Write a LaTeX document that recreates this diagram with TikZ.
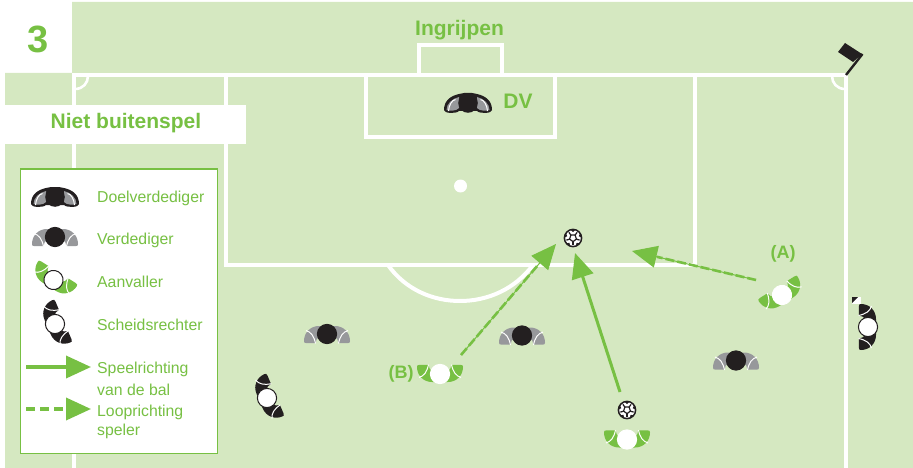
\documentclass[tikz,border=0pt]{standalone}
\usepackage{fontspec}
\setmainfont{Liberation Sans}
\usetikzlibrary{arrows.meta,calc}
\definecolor{grass}{HTML}{D5E8C1}
\definecolor{kng}{HTML}{77C043}
\definecolor{ink}{HTML}{231F20}
\definecolor{midgrey}{HTML}{97989B}
\tikzset{
  fieldline/.style={draw=white,line width=4pt},
  legendlabel/.style={text=kng,anchor=base west,inner sep=0pt,font=\fontsize{15.8}{17}\selectfont},
  headlabel/.style={text=kng,inner sep=0pt,font=\fontsize{21}{24}\selectfont\bfseries},
  taglabel/.style={text=kng,inner sep=0pt,font=\fontsize{18}{20}\selectfont\bfseries},
  bigarrow/.style={draw=kng,line width=3pt,-{Triangle[length=25pt,width=22pt,fill=kng]}},
  runarrowbase/.style={draw=kng,line width=1pt,-{Triangle[length=25pt,width=22pt,fill=kng]}},
  runarrowdash/.style={draw=kng,line width=2.6pt,dash pattern=on 9pt off 3pt},
  pics/player/.style n args={3}{code={
    \fill[#1] (-20.5,9.2) .. controls (-22.5,9.2) and (-23,8.5) .. (-23,7)
      .. controls (-23,-1) and (-17,-8) .. (-8,-8) -- (8,-8)
      .. controls (17,-8) and (23,-1) .. (23,7)
      .. controls (23,8.5) and (22.5,9.2) .. (20.5,9.2) -- (11.5,9.2)
      .. controls (11,6) and (10,4) .. (8,3) -- (-8,3)
      .. controls (-10,4) and (-11,6) .. (-11.5,9.2) -- cycle;
    \draw[white,line width=1pt] (-21,-3.5) .. controls (-16,-2) and (-13,2) .. (-11.5,9.5);
    \draw[white,line width=1pt] (21,-3.5) .. controls (16,-2) and (13,2) .. (11.5,9.5);
    \fill[#2,draw=#3,line width=1pt] (0,0) circle (9.6);
  }},
  pics/goalie/.style={code={
    \fill[ink] (-24,7) .. controls (-24,-2) and (-18,-7) .. (-9,-9) -- (-4,-10) -- (4,-10) -- (9,-9)
      .. controls (18,-7) and (24,-2) .. (24,7)
      .. controls (24,10.5) and (12,11) .. (9,8) -- (-9,8)
      .. controls (-12,11) and (-24,10.5) .. (-24,7) -- cycle;
    \fill[midgrey] (-21.5,7) .. controls (-21.5,1) and (-16,-4.5) .. (-9,-6) -- (-9,5)
      .. controls (-11,8) and (-20,8.5) .. (-21.5,7) -- cycle;
    \fill[midgrey] (21.5,7) .. controls (21.5,1) and (16,-4.5) .. (9,-6) -- (9,5)
      .. controls (11,8) and (20,8.5) .. (21.5,7) -- cycle;
    \draw[white,line width=1pt] (-12.5,-3.5) .. controls (-16,-3) and (-19,2) .. (-19.5,8);
    \draw[white,line width=1pt] (12.5,-3.5) .. controls (16,-3) and (19,2) .. (19.5,8);
    \fill[ink] (0,0) circle (9.8);
  }},
  pics/ball/.style={code={
    \fill[white] (0,0) circle (8.6);
    \foreach \a in {90,162,234,306,378}{
      \draw[ink,line width=1.2pt] (\a:3.6) -- (\a:7);
      \fill[ink] (\a+36-16:8.6) arc[start angle=\a+36-16,end angle=\a+36+16,radius=8.6] -- (\a+36:6) -- cycle;
    }
    \draw[ink,line width=1.2pt] (90:3.6) -- (162:3.6) -- (234:3.6) -- (306:3.6) -- (378:3.6) -- cycle;
    \draw[ink,line width=1.5pt] (0,0) circle (8.6);
  }}
}
\begin{document}
\begin{tikzpicture}[x=1pt,y=-1pt]
\useasboundingbox (0,0) rectangle (913,468);
% grass
\fill[grass] (72,2) -- (913,2) -- (913,468) -- (5,468) -- (5,73) -- (72,73) -- cycle;
% field lines
\draw[fieldline] (74,468) -- (74,75) -- (846,75) -- (846,468);
\draw[fieldline] (226,75) -- (226,265) -- (695,265) -- (695,75);
\draw[fieldline] (366,75) -- (366,137) -- (555,137) -- (555,75);
\draw[fieldline] (419,75) -- (419,45) -- (502,45) -- (502,75);
\draw[fieldline] (388,265) .. controls (405,289) and (432,301) .. (460,301) .. controls (488,301) and (515,289) .. (533,265);
\draw[fieldline,line width=2.6pt] (88,76) .. controls (88,83) and (83,89) .. (75,89);
\draw[fieldline,line width=2.6pt] (832,76) .. controls (832,83) and (837,89) .. (845,89);
\node[circle,fill=white,minimum size=13pt,inner sep=0pt] (spot) at (460.5,186) {};
% flag
\fill[ink] (845,43) -- (838,52) -- (853,62) -- (862,54) -- cycle;
\draw[ink,line width=2.4pt] (846,75) -- (862.5,54);
% white panels
\fill[white] (0,105) rectangle (246,144);
\node[text=kng,inner sep=0pt,font=\fontsize{21}{24}\selectfont\bfseries] (title) at (126,123.5) {Niet buitenspel};
\node[text=kng,inner sep=0pt,font=\fontsize{38}{40}\selectfont\bfseries] (num) at (38,39) {3};
\node[headlabel] (ingrijpen) at (459.5,30) {Ingrijpen};
\node[headlabel] (dv) at (518,101) {DV};
\node[taglabel] (taga) at (783,254) {(A)};
\node[taglabel] (tagb) at (401,373.5) {(B)};
% legend
\draw[kng,fill=white,line width=1pt] (20,169) rectangle (217,453);
\pic (lgk) at (55,197) {goalie};
\pic (ldef) at (55,237) {player={midgrey}{ink}{ink}};
\pic[rotate=148] (latt) at (53.5,280) {player={kng}{white}{ink}};
\pic[rotate=113] (lref) at (55,324) {player={ink}{white}{ink}};
\node[legendlabel] (t1) at (97,202) {Doelverdediger};
\node[legendlabel] (t2) at (97,244) {Verdediger};
\node[legendlabel] (t3) at (97,287) {Aanvaller};
\node[legendlabel] (t4) at (97,330) {Scheidsrechter};
\node[legendlabel] (t5) at (97,373) {Speelrichting};
\node[legendlabel] (t6) at (97,395) {van de bal};
\node[legendlabel] (t7) at (97,416) {Looprichting};
\node[legendlabel] (t8) at (97,435) {speler};
\coordinate (ls1) at (26,367); \coordinate (le1) at (91,367);
\coordinate (ls2) at (26,409); \coordinate (le2) at (91,409);
\draw[bigarrow,line width=3.6pt] (ls1) -- (le1);
\draw[bigarrow,line width=3.6pt,dash pattern=on 9pt off 5pt] (ls2) -- (le2);
% players
\pic (gk) at (468,103) {goalie};
\pic (d1) at (327,334) {player={midgrey}{ink}{ink}};
\pic (d2) at (522,335.5) {player={midgrey}{ink}{ink}};
\pic (d3) at (736,360.5) {player={midgrey}{ink}{ink}};
\pic[rotate=180] (b) at (440,374) {player={kng}{white}{white}};
\pic[rotate=180] (p) at (627,439.5) {player={kng}{white}{white}};
\pic[rotate=212] (a) at (782,295) {player={kng}{white}{white}};
\pic[rotate=113] (r1) at (267,398) {player={ink}{white}{ink}};
\pic[rotate=-90] (r2) at (868,327) {player={ink}{white}{ink}};
% assistant's flag
\fill[white] (852,297) rectangle (861,304);
\fill[ink] (852,297) -- (858,297) -- (852,303) -- cycle;
% balls
\pic (ball1) at (573,238) {ball};
\pic (ball2) at (627,410) {ball};
% arrows
\coordinate (ps) at (620,392); \coordinate (pe) at (575,253);
\coordinate (as) at (756,280); \coordinate (ae) at (632,251);
\coordinate (bs) at (461,355); \coordinate (be) at (556,244);
\draw[bigarrow] (ps) -- (pe);
\draw[runarrowbase] (as) -- (ae);
\draw[runarrowdash] (as) -- ($(as)!0.8!(ae)$);
\draw[runarrowbase] (bs) -- (be);
\draw[runarrowdash] (bs) -- ($(bs)!0.8!(be)$);
\end{tikzpicture}
\end{document}
